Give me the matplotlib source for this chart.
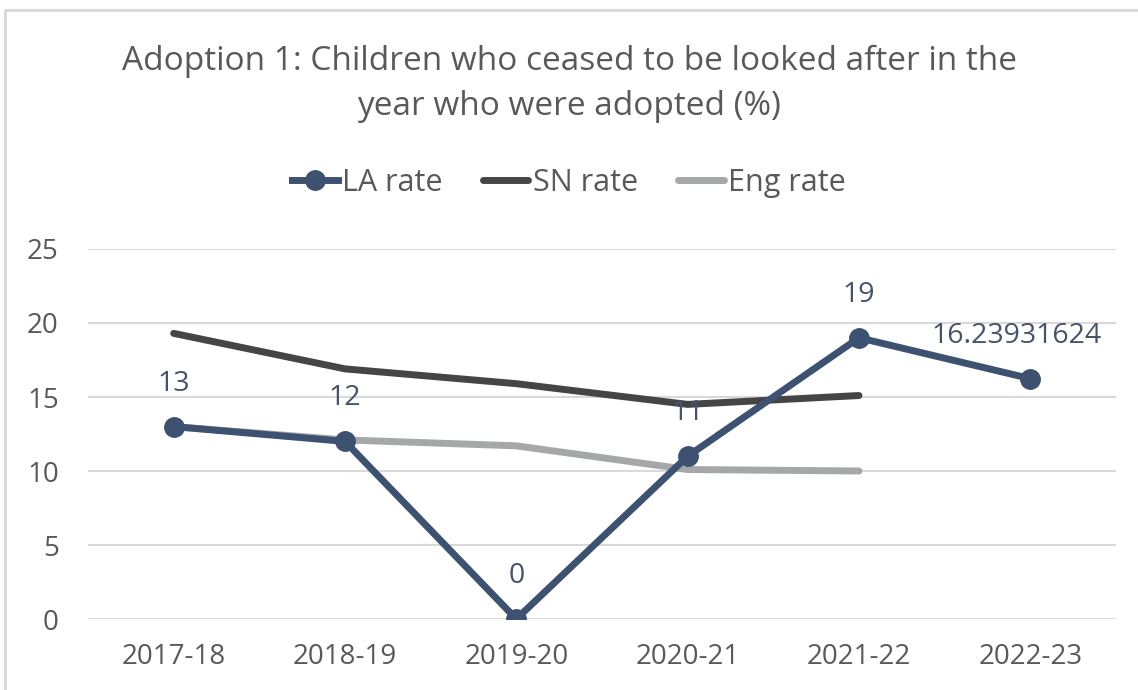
import matplotlib
matplotlib.use("Agg")
import matplotlib.pyplot as plt
from matplotlib.patches import Rectangle

categories = ["2017-18", "2018-19", "2019-20", "2020-21", "2021-22", "2022-23"]
la_rate = [13, 12, 0, 11, 19, 16.23931624]
la_labels = ["13", "12", "0", "11", "19", "16.23931624"]
sn_rate = [19.3, 16.9, 15.9, 14.5, 15.1]
eng_rate = [13.0, 12.1, 11.7, 10.1, 10.0]
yticks = [0, 5, 10, 15, 20, 25]

plt.rcParams['font.family'] = ['Open Sans', 'DejaVu Sans']

W, H = 1138, 690
fig = plt.figure(figsize=(W / 100, H / 100), dpi=100)
fig.patch.set_facecolor("white")

# chart-area border
fig.patches.append(Rectangle((5 / W, -0.05), 1.2, (H - 10) / H + 0.05,
                             transform=fig.transFigure, fill=False,
                             edgecolor="#D9D9D9", linewidth=2))

ax = fig.add_axes([88 / W, 71 / H, (1116 - 88) / W, (619 - 249) / H])
x = list(range(len(categories)))

la_col = "#3D5170"
sn_col = "#454545"
eng_col = "#A5A7A8"

ax.plot(x[:len(sn_rate)], sn_rate, color=sn_col, lw=5, solid_capstyle="round",
        label="SN rate", zorder=3)
ax.plot(x[:len(eng_rate)], eng_rate, color=eng_col, lw=5, solid_capstyle="round",
        label="Eng rate", zorder=3)
ax.plot(x, la_rate, color=la_col, lw=5, marker="o", markersize=14,
        label="LA rate", zorder=4)

for i, (xi, v, lab) in enumerate(zip(x, la_rate, la_labels)):
    dx = -10 if i == len(x) - 1 else 0
    ax.annotate(lab, (xi, v), xytext=(dx, 31), textcoords="offset points",
                ha="center", va="center", fontsize=20.5, color="#44546A", zorder=5)

ax.set_xlim(-0.5, len(categories) - 0.5)
ax.set_ylim(0, 25)
ax.set_yticks(yticks)
ax.set_xticks(x)
ax.set_xticklabels(categories)
ax.yaxis.grid(True, color="#D9D9D9", lw=1.5)
ax.set_axisbelow(True)
for s in ax.spines.values():
    s.set_visible(False)
ax.tick_params(axis="both", length=0, labelsize=20, colors="#595959")
ax.tick_params(axis="y", pad=21)
ax.tick_params(axis="x", pad=17)

fig.text(0.5, 1 - 84 / H, "Adoption 1: Children who ceased to be looked after in the\nyear who were adopted (%)",
         ha="center", va="center", fontsize=24, color="#595959", linespacing=1.5)

handles, labels = ax.get_legend_handles_labels()
order = [2, 0, 1]
leg = fig.legend([handles[i] for i in order], [labels[i] for i in order],
                 loc="center", bbox_to_anchor=(0.5, 1 - 183 / H), ncol=3,
                 frameon=False, fontsize=22, handlelength=1.5, handletextpad=0.15,
                 columnspacing=1.3, labelcolor="#595959")

fig.savefig("out.png", dpi=100)
